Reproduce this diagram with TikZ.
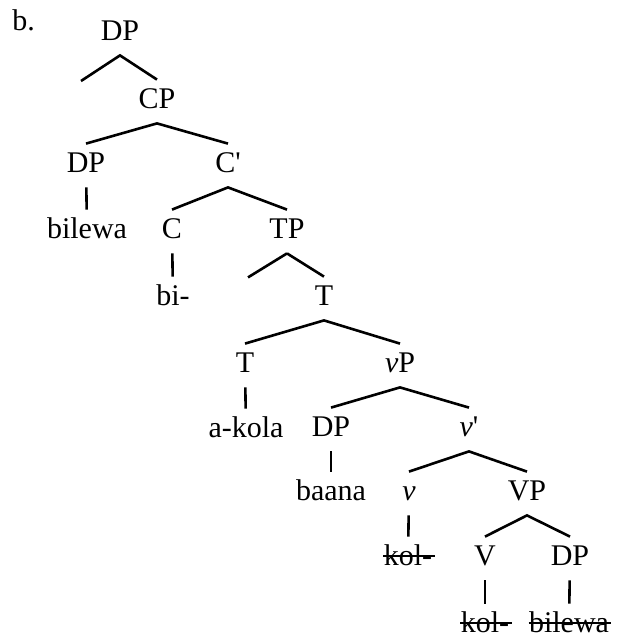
\documentclass[tikz,border=0pt]{standalone}
\usepackage{fontspec}
\setmainfont{Liberation Serif}[Ligatures=TeXOff]
\tikzset{
  cat/.style={
    anchor=base, inner sep=0pt, text height=14pt, text depth=7.5pt,
    font=\fontsize{15}{18}\selectfont
  },
  branch/.style={line width=1.3pt},
  strike/.style={line width=0.9pt}
}

\begin{document}
\begin{tikzpicture}[x=0.5pt,y=-0.5pt]
    \useasboundingbox (0,0) rectangle (616,637);
    \node[anchor=base west,inner sep=0pt,font=\fontsize{15}{18}\selectfont] (lbl) at (12,30) {b.};
    % top of the tree
    \node[cat] (dp0) at (120,40) {DP};
    \coordinate (gap) at (81,81);
    \node[cat] (cp) at (157,108) {CP};
    \node[cat] (dp1) at (86,172) {DP};
    \node[cat] (cbar) at (228,172) {C'};
    \node[cat] (bilewa1) at (87,238) {bilewa};
    \node[cat] (c) at (172,238) {C};
    \node[cat] (tp) at (287,238) {TP};
    \node[cat] (bi) at (173,305) {bi-};
    \node[cat] (tbar) at (324,305) {T};
    % lower part
    \node[cat] (t) at (245,372) {T};
    \node[cat] (littlevp) at (400,372) {\textit{ν}P};
    \node[cat] (akola) at (246,437) {a-kola};
    \node[cat] (dp2) at (331,436) {DP};
    \node[cat] (littlevbar) at (469,436) {\textit{ν}'};
    \node[cat] (baana) at (331,500) {baana};
    \node[cat] (littlev) at (409,500) {\textit{ν}};
    \node[cat] (vp) at (527,500) {VP};
    \node[cat] (kol1) at (408,565) {kol-};
    \node[cat] (vhead) at (485,565) {V};
    \node[cat] (dp3) at (570,565) {DP};
    \node[cat] (kol2) at (485,632) {kol-};
    \node[cat] (bilewa2) at (569,632) {bilewa};
    % branches
    \draw[branch] (gap) -- (dp0.south) -- (cp.north);
    \draw[branch] (dp1.north) -- (cp.south) -- (cbar.north);
    \draw[branch] (dp1) -- (bilewa1);
    \draw[branch] (c.north) -- (cbar.south) -- (tp.north);
    \draw[branch] (c) -- (bi);
    \draw[branch] (tp.south) -- (tbar.north);
    \draw[branch] (tp.south) -- +(-39,24);
    \draw[branch] (t.north) -- (tbar.south) -- (littlevp.north);
    \draw[branch] (t) -- (akola);
    \draw[branch] (dp2.north) -- (littlevp.south) -- (littlevbar.north);
    \draw[branch] (dp2) -- (baana);
    \draw[branch] (littlev.north) -- (littlevbar.south) -- (vp.north);
    \draw[branch] (littlev) -- (kol1);
    \draw[branch] (vhead.north) -- (vp.south) -- (dp3.north);
    \draw[branch] (vhead) -- (kol2);
    \draw[branch] (dp3) -- (bilewa2);
    % deleted copies
    \foreach \n in {kol1,kol2,bilewa2}
      \draw[strike] ([yshift=4.6pt]\n.base west) -- ([xshift=1pt,yshift=4.6pt]\n.base east);
\end{tikzpicture}
\end{document}
